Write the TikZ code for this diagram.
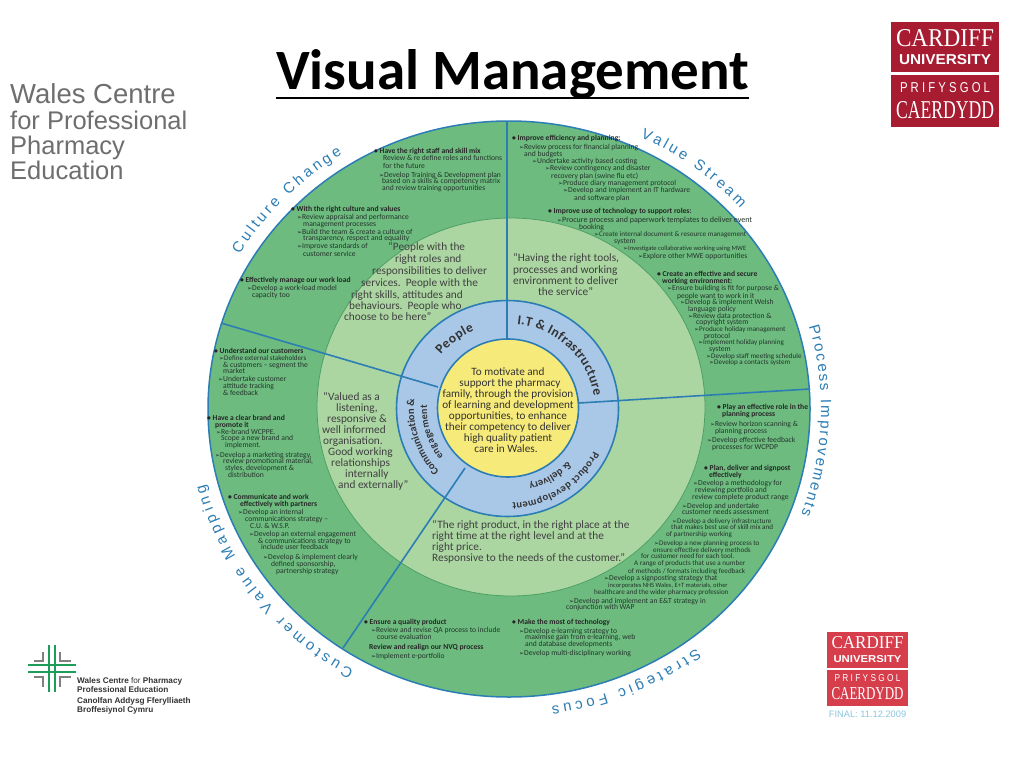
\documentclass[tikz,border=0pt]{standalone}
\usepackage{fontspec}
\setmainfont{Carlito}
\newfontfamily\arialfont{Liberation Sans}
\newfontfamily\timesfont{Liberation Serif}
\newfontfamily\symfont{DejaVu Sans}
\usepackage{xcolor}
\usetikzlibrary{arrows,shapes,calc,positioning,decorations.text}
\definecolor{ringgreen}{HTML}{6DBB7F}
\definecolor{palegreen}{HTML}{ABD6A2}
\definecolor{darkgreen}{HTML}{4E9F66}
\definecolor{ringblue}{HTML}{A9C8E8}
\definecolor{linkblue}{HTML}{2C7DB4}
\definecolor{sunyellow}{HTML}{F6EA7A}
\definecolor{inkgrey}{HTML}{23352A}
\definecolor{wcpgrey}{HTML}{6E6E6E}
\definecolor{cardred}{HTML}{A81C32}
\definecolor{lightred}{HTML}{D63E4C}
\definecolor{crossgreen}{HTML}{1E9C5A}
\definecolor{finalblue}{HTML}{8CC6E0}
\newcommand{\tipmark}{{\symfont\fontsize{6}{6}\selectfont ➢}}
\newcommand{\bandfont}{\arialfont\fontsize{15}{15}\selectfont\color{linkblue}}
\newcommand{\hubfont}{\bfseries\fontsize{13.5}{13.5}\selectfont\color{black!80}}
\newcommand{\hubsmall}{\bfseries\fontsize{10.5}{10.5}\selectfont\color{black!80}}
\newcommand{\hubtiny}{\bfseries\fontsize{10}{10}\selectfont\color{black!80}}
% rx, ry, start angle, end angle, format, text
\newcommand{\arclabel}[6]{
	\path [decorate, decoration={text along path, text align=fit to path, text={|#5|#6}}]
		(508,409) ++(#3:#1 and #2) arc [start angle=#3, end angle=#4, x radius=#1, y radius=#2];
}
\newcommand{\logoline}[3]{\resizebox{#1pt}{#2pt}{#3}}

\begin{document}
\begin{tikzpicture}[x=1pt, y=-1pt]
	\tikzstyle{every node}=[inner sep=0pt]
	\tikzstyle{line}=[font=\fontsize{7.6}{7.6}\selectfont, text=inkgrey, anchor=west, text height=5pt, text depth=1.5pt]
	\tikzstyle{slim}=[line, font=\fontsize{7.1}{7.1}\selectfont]
	\tikzstyle{thin}=[line, font=\fontsize{6.5}{6.5}\selectfont]
	\tikzstyle{wide}=[line, font=\fontsize{8}{8}\selectfont]
	\tikzstyle{head}=[line, font=\fontsize{7.6}{7.6}\selectfont\bfseries, text=black!85]
	\tikzstyle{quote}=[font=\fontsize{11.3}{11.3}\selectfont, text=black!75, anchor=west, text height=8pt, text depth=2pt]
	\tikzstyle{mission}=[font=\fontsize{11.2}{11.2}\selectfont, text=black!80, text height=8pt, text depth=2pt]
	\tikzstyle{wcp}=[font=\arialfont\fontsize{25.5}{25.5}\selectfont, text=wcpgrey, anchor=west, text height=18pt, text depth=5pt]
	\tikzstyle{wcpb}=[font=\arialfont\bfseries\fontsize{8.2}{8.2}\selectfont, text=black!80, anchor=west, text height=6pt, text depth=2pt]
	\tikzstyle{divide}=[line width=1.6pt, draw=linkblue]
	\tikzstyle{crossbar}=[line width=2.4pt, draw=crossgreen]
	\tikzstyle{crosscorner}=[line width=1.8pt, draw=gray]
	\useasboundingbox (0,0) rectangle (1024,768);

	% the wheel
	\fill [white] (0,0) rectangle (1024,768);
	\draw [line width=1.5pt, draw=linkblue, fill=ringgreen] (509,409) ellipse [x radius=301, y radius=288];
	\draw [line width=0.8pt, draw=darkgreen, fill=palegreen] (511,407) ellipse [x radius=194, y radius=189];
	\draw [line width=1.6pt, draw=linkblue, fill=ringblue] (507.5,408.5) ellipse [x radius=111, y radius=108];
	\coordinate (top) at (507,122);
	\coordinate (topin) at (507,339);
	\coordinate (right) at (810,389);
	\coordinate (rightin) at (579,403);
	\coordinate (low) at (343,648);
	\coordinate (lowin) at (465,468);
	\coordinate (left) at (221,323);
	\coordinate (leftin) at (438,387);
	\draw [divide] (top) -- (topin);
	\draw [divide] (right) -- (rightin);
	\draw [divide] (low) -- (lowin);
	\draw [divide] (left) -- (leftin);
	\draw [line width=1.6pt, draw=linkblue, fill=sunyellow] (508,408) ellipse [x radius=70.5, y radius=69];

	% heading and logos
	\node [font=\bfseries\fontsize{57}{57}\selectfont, text=black, anchor=base] (title) at (512.5,89.5) {Visual Management};
	\draw [line width=2.6pt] ($(title.base west)+(0,8.5)$) -- ($(title.base east)+(0,8.5)$);
	\node [wcp, font=\arialfont\fontsize{27.5}{27.5}\selectfont] (wcp1) at (10,97) {Wales Centre};
	\node [wcp] (wcp2) at (10,123) {for Professional};
	\node [wcp] (wcp3) at (10,148) {Pharmacy};
	\node [wcp] (wcp4) at (10,173) {Education};

	\fill [cardred] (891,22) rectangle (999,72);
	\fill [cardred] (891,75) rectangle (999,127);
	\node [text=white, font=\timesfont] (card1) at (945,38) {\logoline{98}{17}{CARDIFF}};
	\node [text=white, font=\arialfont\bfseries] (card2) at (945,60) {\logoline{92}{10}{UNIVERSITY}};
	\node [text=white, font=\arialfont] (card3) at (945,88) {\logoline{90}{10}{P R I F Y S G O L}};
	\node [text=white, font=\timesfont] (card4) at (945,110) {\logoline{98}{17}{CAERDYDD}};

	\fill [lightred] (827,632) rectangle (908,668);
	\fill [lightred] (827,670) rectangle (908,706);
	\node [text=white, font=\timesfont] (low1) at (867.5,643) {\logoline{72}{12}{CARDIFF}};
	\node [text=white, font=\arialfont\bfseries] (low2) at (867.5,659) {\logoline{68}{7}{UNIVERSITY}};
	\node [text=white, font=\arialfont] (low3) at (867.5,678) {\logoline{66}{7}{P R I F Y S G O L}};
	\node [text=white, font=\timesfont] (low4) at (867.5,694) {\logoline{72}{12}{CAERDYDD}};
	\node [text=finalblue, font=\arialfont\fontsize{9.3}{9.3}\selectfont] (final) at (867.5,714) {FINAL: 11.12.2009};

	% cross logo
	\draw [crossbar] (49,645) -- (49,692);
	\draw [crossbar] (55,645) -- (55,692);
	\draw [crossbar] (28,665) -- (76,665);
	\draw [crossbar] (28,672) -- (76,672);
	\draw [crosscorner] (43,652) -- (43,661) -- (34,661);
	\draw [crosscorner] (60,652) -- (60,661) -- (71,661);
	\draw [crosscorner] (43,687) -- (43,677) -- (34,677);
	\draw [crosscorner] (60,687) -- (60,677) -- (71,677);
	\node [wcpb] (wcpb1) at (77,681) {Wales Centre {\mdseries for} Pharmacy};
	\node [wcpb] (wcpb2) at (77,690) {Professional Education};
	\node [wcpb] (wcpb3) at (77,701) {Canolfan Addysg Fferylliaeth};
	\node [wcpb] (wcpb4) at (77,710) {Broffesiynol Cymru};

	% outer band labels
	\arclabel{313}{300}{211}{238}{\bandfont}{Culture Change}
	\arclabel{313}{300}{295}{318}{\bandfont}{Value Stream}
	\arclabel{313}{300}{-16}{20.5}{\bandfont}{Process Improvements}
	\arclabel{313}{300}{53}{82}{\bandfont}{Strategic Focus}
	\arclabel{313}{300}{119.5}{165.5}{\bandfont}{Customer Value Mapping}

	% hub labels
	\arclabel{87}{85}{219.5}{247}{\hubfont}{People}
	\arclabel{87}{85}{276}{351}{\hubfont}{I.T {\&} Infrastructure}
	\arclabel{94}{92}{137}{186}{\hubsmall}{Communication {\&}}
	\arclabel{81}{79}{143}{183}{\hubtiny}{engagement}
	\arclabel{96}{94}{27}{87.5}{\hubsmall}{Product development}
	\arclabel{80}{78}{42}{75}{\hubsmall}{{\&} delivery}

	% mission
	\node [mission] (mis1) at (508,372) {To motivate and};
	\node [mission] (mis2) at (510,383) {support the pharmacy};
	\node [mission] (mis3) at (508,394) {family, through the provision};
	\node [mission] (mis4) at (508,405) {of learning and development};
	\node [mission] (mis5) at (508,416) {opportunities, to enhance};
	\node [mission] (mis6) at (508,427) {their competency to deliver};
	\node [mission] (mis7) at (508,438) {high quality patient};
	\node [mission] (mis8) at (506,449) {care in Wales.};

	% quotes
	\node [quote] (peo1) at (388,247) {“People with the};
	\node [quote] (peo2) at (395,259) {right roles and};
	\node [quote] (peo3) at (372,271) {responsibilities to deliver};
	\node [quote] (peo4) at (361,283) {services.\ \ People with the};
	\node [quote] (peo5) at (351,295) {right skills, attitudes and};
	\node [quote] (peo6) at (349,306) {behaviours.\ \ People who};
	\node [quote] (peo7) at (344,317) {choose to be here”};

	\node [quote] (it1) at (513,258) {“Having the right tools,};
	\node [quote] (it2) at (513,270) {processes and working};
	\node [quote] (it3) at (513,281) {environment to deliver};
	\node [quote] (it4) at (538,292) {the service”};

	\node [quote] (val1) at (323,397) {“Valued as a};
	\node [quote] (val2) at (336,408) {listening,};
	\node [quote] (val3) at (327,419) {responsive \&};
	\node [quote] (val4) at (322,430) {well informed};
	\node [quote] (val5) at (323,441) {organisation.};
	\node [quote] (val6) at (328,452) {Good working};
	\node [quote] (val7) at (331,463) {relationships};
	\node [quote] (val8) at (345,474) {internally};
	\node [quote] (val9) at (338,485) {and externally”};

	\node [quote] (pro1) at (432,525) {“The right product, in the right place at the};
	\node [quote] (pro2) at (432,536) {right time at the right level and at the};
	\node [quote] (pro3) at (432,547) {right price.};
	\node [quote] (pro4) at (432,558) {Responsive to the needs of the customer.”};

	% culture change
	\node [head] (cul1) at (374,152) {• Have the right staff and skill mix};
	\node [line] (cul2) at (383,159) {Review \& re define roles and functions};
	\node [line] (cul3) at (383,167) {for the future};
	\node [line] (cul4) at (379,176) {\tipmark Develop Training \& Development plan};
	\node [line] (cul5) at (382,182) {based on a skills \& competency matrix};
	\node [line] (cul6) at (382,189) {and review training opportunities};
	\node [head] (cul7) at (291,210) {• With the right culture and values};
	\node [line] (cul8) at (297,218) {\tipmark Review appraisal and performance};
	\node [line] (cul9) at (303,225) {management processes};
	\node [line] (cul10) at (297,233) {\tipmark Build the team \& create a culture of};
	\node [line] (cul11) at (303,239) {transparency, respect and equality};
	\node [line] (cul12) at (297,247) {\tipmark Improve standards of};
	\node [line] (cul13) at (303,255) {customer service};
	\node [head] (cul14) at (240,281) {• Effectively manage our work load};
	\node [line] (cul15) at (247,289) {\tipmark Develop a work-load model};
	\node [line] (cul16) at (252,296) {capacity too};

	% value stream
	\node [head] (str1) at (512,139) {• Improve efficiency and planning:};
	\node [line] (str2) at (519,148) {\tipmark Review process for financial planning};
	\node [line] (str3) at (524,155) {and budgets};
	\node [line] (str4) at (532,162) {\tipmark Undertake activity based costing};
	\node [line] (str5) at (545,169) {\tipmark Review contingency and disaster};
	\node [line] (str6) at (551,177) {recovery plan (swine flu etc)};
	\node [line] (str7) at (558,184) {\tipmark Produce diary management protocol};
	\node [line] (str8) at (563,191) {\tipmark Develop and implement an IT hardware};
	\node [line] (str9) at (574,199) {and software plan};
	\node [head] (str10) at (548,212) {• Improve use of technology to support roles:};
	\node [wide] (str11) at (557,221) {\tipmark Procure process and paperwork templates to deliver event};
	\node [line] (str12) at (579,228) {booking};
	\node [slim] (str13) at (594,235) {\tipmark Create internal document \& resource management};
	\node [line] (str14) at (614,242) {system};
	\node [thin] (str15) at (623,249) {\tipmark Investigate collaborative working using MWE};
	\node [line] (str16) at (638,257) {\tipmark Explore other MWE opportunities};
	\node [head] (str17) at (657,275) {• Create an effective and secure};
	\node [head] (str18) at (662,282) {working environment:};
	\node [line] (str19) at (667,289) {\tipmark Ensure building is fit for purpose \&};
	\node [line] (str20) at (677,297) {people want to work in it};
	\node [line] (str21) at (680,303) {\tipmark Develop \& implement Welsh};
	\node [line] (str22) at (688,310) {language policy};
	\node [line] (str23) at (688,317) {\tipmark Review data protection \&};
	\node [line] (str24) at (696,323) {copyright system};
	\node [slim] (str25) at (694,330) {\tipmark Produce holiday management};
	\node [line] (str26) at (704,337) {protocol};
	\node [slim] (str27) at (698,343) {\tipmark Implement holiday planning};
	\node [line] (str28) at (709,350) {system};
	\node [slim] (str29) at (706,357) {\tipmark Develop staff meeting schedule};
	\node [slim] (str30) at (709,363) {\tipmark Develop a contacts system};

	% process improvements
	\node [head] (imp1) at (717,408) {• Play an effective role in the};
	\node [head] (imp2) at (722,415) {planning process};
	\node [line] (imp3) at (710,425) {\tipmark Review horizon scanning \&};
	\node [line] (imp4) at (715,432) {planning process};
	\node [line] (imp5) at (707,441) {\tipmark Develop effective feedback};
	\node [line] (imp6) at (712,448) {processes for WCPDP};
	\node [head] (imp7) at (704,469) {• Plan, deliver and signpost};
	\node [head] (imp8) at (709,476) {effectively};
	\node [line] (imp9) at (693,484) {\tipmark Develop a methodology for};
	\node [line] (imp10) at (695,491) {reviewing portfolio and};
	\node [line] (imp11) at (692,498) {review complete product range};
	\node [line] (imp12) at (682,507) {\tipmark Develop and undertake};
	\node [line] (imp13) at (682,513) {customer needs assessment};
	\node [slim] (imp14) at (672,522) {\tipmark Develop a delivery infrastructure};
	\node [slim] (imp15) at (671,528) {that makes best use of skill mix and};
	\node [slim] (imp16) at (666,535) {of partnership working};
	\node [slim] (imp17) at (654,544) {\tipmark Develop a new planning process to};
	\node [slim] (imp18) at (653,551) {ensure effective delivery methods};
	\node [slim] (imp19) at (641,557) {for customer need for each tool.};
	\node [slim] (imp20) at (634,564) {A range of products that use a number};
	\node [slim] (imp21) at (628,572) {of methods / formats including feedback};
	\node [line] (imp22) at (604,579) {\tipmark Develop a signposting strategy that};
	\node [thin] (imp23) at (608,586) {incorporates NHS Wales, E+T materials, other};
	\node [slim] (imp24) at (594,593) {healthcare and the wider pharmacy profession};
	\node [line] (imp25) at (569,602) {\tipmark Develop and implement an E\&T strategy in};
	\node [line] (imp26) at (566,608) {conjunction with WAP};

	% strategic focus
	\node [head] (foc1) at (364,623) {• Ensure a quality product};
	\node [line] (foc2) at (371,631) {\tipmark Review and revise QA process to include};
	\node [line] (foc3) at (377,638) {course evaluation};
	\node [head] (foc4) at (369,648) {Review and realign our NVQ process};
	\node [line] (foc5) at (371,657) {\tipmark Implement e-portfolio};
	\node [head] (foc6) at (512,623) {• Make the most of technology};
	\node [line] (foc7) at (519,632) {\tipmark Develop e-learning strategy to};
	\node [line] (foc8) at (525,638) {maximise gain from e-learning, web};
	\node [line] (foc9) at (525,645) {and database developments};
	\node [line] (foc10) at (519,654) {\tipmark Develop multi-disciplinary working};

	% customer value mapping
	\node [head] (map1) at (214,352) {• Understand our customers};
	\node [slim] (map2) at (219,359) {\tipmark Define external stakeholders};
	\node [line] (map3) at (223,366) {\& customers – segment the};
	\node [line] (map4) at (223,372) {market};
	\node [line] (map5) at (218,380) {\tipmark Undertake customer};
	\node [line] (map6) at (223,387) {attitude tracking};
	\node [line] (map7) at (223,394) {\& feedback};
	\node [head] (map8) at (207,419) {• Have a clear brand and};
	\node [head] (map9) at (215,426) {promote it};
	\node [line] (map10) at (216,433) {\tipmark Re-brand WCPPE.};
	\node [line] (map11) at (221,439) {Scope a new brand and};
	\node [line] (map12) at (225,446) {implement.};
	\node [line] (map13) at (215,456) {\tipmark Develop a marketing strategy,};
	\node [line] (map14) at (223,462) {review promotional material,};
	\node [line] (map15) at (225,469) {styles, development \&};
	\node [line] (map16) at (228,476) {distribution};
	\node [head] (map17) at (228,498) {• Communicate and work};
	\node [head] (map18) at (240,505) {effectively with partners};
	\node [line] (map19) at (238,513) {\tipmark Develop an internal};
	\node [line] (map20) at (245,520) {communications strategy –};
	\node [line] (map21) at (250,527) {C.U. \& W.S.P.};
	\node [line] (map22) at (249,535) {\tipmark Develop an external engagement};
	\node [line] (map23) at (258,542) {\& communications strategy to};
	\node [line] (map24) at (261,548) {include user feedback};
	\node [line] (map25) at (263,558) {\tipmark Develop \& implement clearly};
	\node [line] (map26) at (271,565) {defined sponsorship,};
	\node [line] (map27) at (276,572) {partnership strategy};
\end{tikzpicture}
\end{document}
